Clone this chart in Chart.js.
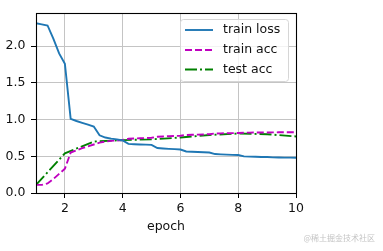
<!DOCTYPE html>
<html>
<head>
<meta charset="utf-8">
<script src="https://cdn.jsdelivr.net/npm/chart.js@4/dist/chart.umd.min.js"></script>
<style>
html,body{margin:0;padding:0;background:#ffffff;}
#wrap{position:relative;width:383px;height:251px;}
</style>
</head>
<body>
<div id="wrap"><canvas id="c" width="383" height="251"></canvas></div>
<script>
// ---- data ----
const batchEpochs = [1.0,1.2,1.4,1.6,1.8,2.0,2.2,2.4,2.6,2.8,3.0,3.2,3.4,3.6,3.8,4.0,4.2,4.4,4.6,4.8,5.0,5.2,5.4,5.6,5.8,6.0,6.2,6.4,6.6,6.8,7.0,7.2,7.4,7.6,7.8,8.0,8.2,8.4,8.6,8.8,9.0,9.2,9.4,9.6,9.8,10.0];
const trainLoss = [2.31,2.295,2.28,2.10,1.90,1.76,1.01,0.98,0.955,0.93,0.905,0.785,0.755,0.74,0.73,0.715,0.668,0.664,0.661,0.658,0.655,0.612,0.606,0.601,0.597,0.592,0.565,0.561,0.558,0.555,0.551,0.530,0.526,0.522,0.519,0.517,0.498,0.495,0.493,0.491,0.489,0.485,0.483,0.482,0.481,0.480];
const trainAcc = [0.11,0.11,0.13,0.19,0.26,0.33,0.55,0.58,0.61,0.635,0.66,0.685,0.70,0.71,0.715,0.722,0.738,0.742,0.745,0.748,0.752,0.765,0.770,0.773,0.776,0.779,0.790,0.793,0.795,0.797,0.800,0.810,0.812,0.813,0.815,0.817,0.821,0.822,0.823,0.824,0.824,0.825,0.826,0.826,0.827,0.827];
const testEpochs = [1,2,3,4,5,6,7,8,9,10];
const testAcc = [0.11,0.54,0.70,0.72,0.73,0.755,0.79,0.81,0.80,0.77];
const xTickValues = [2,4,6,8,10];
const yTickValues = [0.0,0.5,1.0,1.5,2.0];
const seriesNames = ['train loss','train acc','test acc'];
const xLabel = 'epoch';
const watermark = '@稀土掘金技术社区';

// ---- styles ----
const FONT = "'DejaVu Sans', sans-serif";
const colors = ['#1f77b4','#bf00bf','#008000'];
const dashes = [[],[7,3],[12,3,2,3]];
const LW = 1.9;

const toPts = (xs, ys) => xs.map((x,i)=>({x:x, y:ys[i]}));

const datasets = [
  {label:seriesNames[0], data:toPts(batchEpochs,trainLoss)},
  {label:seriesNames[1], data:toPts(batchEpochs,trainAcc)},
  {label:seriesNames[2], data:toPts(testEpochs,testAcc)}
].map((d,i)=>Object.assign(d,{
  borderColor:colors[i], backgroundColor:colors[i], borderWidth:LW,
  borderDash:dashes[i], pointRadius:0, tension:0, fill:false, showLine:true
}));

const decor = {
  id:'decor',
  afterDatasetsDraw(chart){
    const {ctx, chartArea:a} = chart;
    ctx.save();
    // spines
    ctx.strokeStyle = '#000';
    ctx.lineWidth = 1.1;
    ctx.setLineDash([]);
    ctx.strokeRect(Math.round(a.left)+0.5, Math.round(a.top)+0.5, Math.round(a.right-a.left), Math.round(a.bottom-a.top));
    // legend
    const lx = 180.5, ly = 19.5, lw = 108, lh = 62, r = 3;
    ctx.beginPath();
    ctx.moveTo(lx+r, ly);
    ctx.arcTo(lx+lw, ly, lx+lw, ly+lh, r);
    ctx.arcTo(lx+lw, ly+lh, lx, ly+lh, r);
    ctx.arcTo(lx, ly+lh, lx, ly, r);
    ctx.arcTo(lx, ly, lx+lw, ly, r);
    ctx.closePath();
    ctx.fillStyle = 'rgba(255,255,255,0.8)';
    ctx.fill();
    ctx.strokeStyle = '#d6d6d6';
    ctx.lineWidth = 1;
    ctx.stroke();
    const rows = [30, 50, 69.5];
    seriesNames.forEach((name,i)=>{
      ctx.beginPath();
      ctx.setLineDash(dashes[i]);
      ctx.strokeStyle = colors[i];
      ctx.lineWidth = LW;
      ctx.moveTo(185, rows[i]);
      ctx.lineTo(213, rows[i]);
      ctx.stroke();
      ctx.setLineDash([]);
      ctx.fillStyle = '#111';
      ctx.font = "12.5px " + FONT;
      ctx.textAlign = 'left';
      ctx.textBaseline = 'middle';
      ctx.fillText(name, 223, rows[i]);
    });
    // watermark
    ctx.font = "8px 'Noto Sans CJK SC', sans-serif";
    ctx.fillStyle = '#c4c4c4';
    ctx.textAlign = 'right';
    ctx.textBaseline = 'middle';
    ctx.fillText(watermark, 375, 238);
    ctx.restore();
  }
};

new Chart(document.getElementById('c'), {
  type:'scatter',
  data:{datasets},
  options:{
    responsive:false, animation:false, devicePixelRatio:1,
    layout:{padding:{left:0, top:13, right:87, bottom:0}},
    plugins:{legend:{display:false}, tooltip:{enabled:false}},
    scales:{
      x:{
        type:'linear', min:1, max:10,
        afterBuildTicks:(s)=>{ s.ticks = xTickValues.map(v=>({value:v})); },
        afterFit:(s)=>{ s.height = 58; },
        ticks:{color:'#111', font:{family:FONT, size:12.5}, padding:3, maxRotation:0, autoSkip:false, callback:(v)=>String(v)},
        grid:{color:'#c4c4c4', lineWidth:1, tickColor:'#000', tickLength:5, drawTicks:true},
        border:{display:false},
        title:{display:true, text:xLabel, color:'#111', font:{family:FONT, size:12.5}, padding:{top:0,bottom:17}}
      },
      y:{
        type:'linear', min:0, max:2.45,
        afterBuildTicks:(s)=>{ s.ticks = yTickValues.map(v=>({value:v})); },
        afterFit:(s)=>{ s.width = 36; },
        ticks:{color:'#111', font:{family:FONT, size:12.5}, padding:5.5, autoSkip:false, callback:(v)=>Number(v).toFixed(1)},
        grid:{color:'#c4c4c4', lineWidth:1, tickColor:'#000', tickLength:5, drawTicks:true},
        border:{display:false}
      }
    }
  },
  plugins:[decor]
});
</script>
</body>
</html>
